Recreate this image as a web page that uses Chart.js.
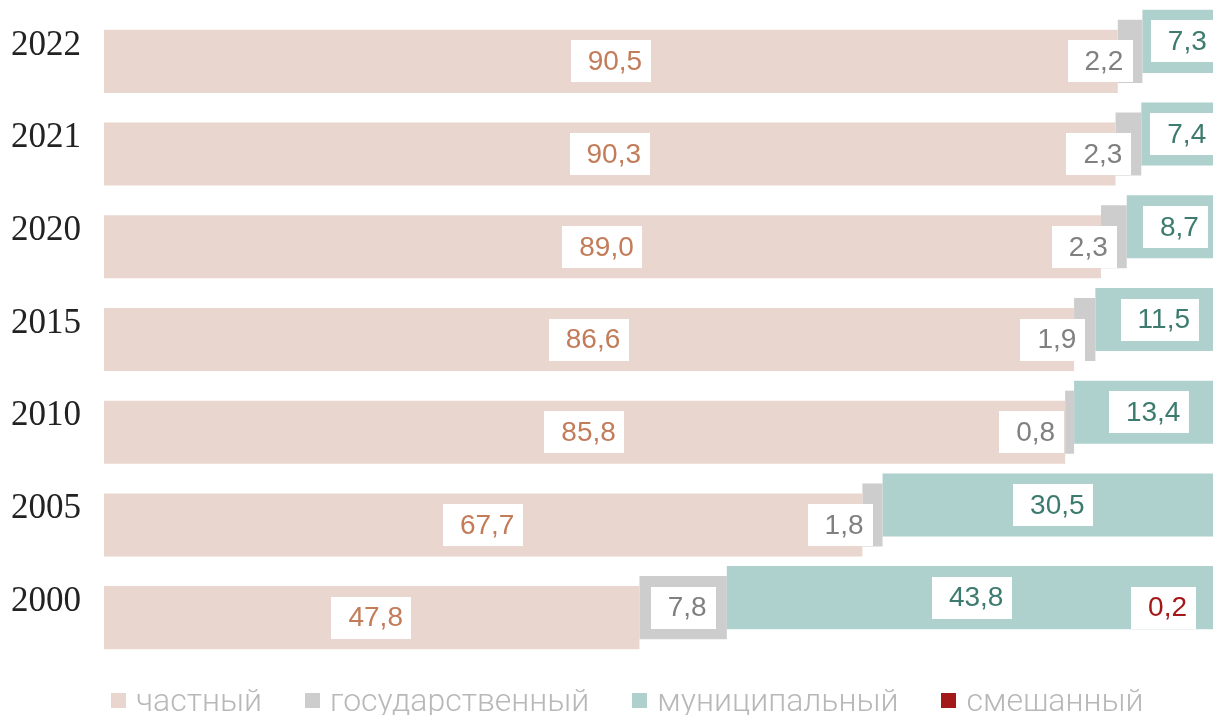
<!DOCTYPE html>
<html>
<head>
<meta charset="utf-8">
<script src="https://cdn.jsdelivr.net/npm/chart.js@4.4.1/dist/chart.umd.min.js"></script>
<style>
  body { margin: 0; background: #fff; }
  .wrap { position: relative; width: 1213px; height: 715px; overflow: hidden; }
  .legend {
    position: absolute; left: 111px; top: 684px;
    display: flex; white-space: nowrap;
    font: 300 32px Roboto, sans-serif; line-height: 32px; color: #b8b8b8;
  }
  .legend .item { display: flex; align-items: center; margin-right: 43px; }
  .legend .sw { width: 15px; height: 15px; margin-right: 10px; }
</style>
</head>
<body>
<div class="wrap">
  <canvas id="chart"></canvas>
  <div class="legend" id="legend"></div>
</div>
<script>
const years = ['2022', '2021', '2020', '2015', '2010', '2005', '2000'];
const privateShare = [90.5, 90.3, 89.0, 86.6, 85.8, 67.7, 47.8];
const stateShare = [2.2, 2.3, 2.3, 1.9, 0.8, 1.8, 7.8];
const municipalShare = [7.3, 7.4, 8.7, 11.5, 13.4, 30.5, 43.8];
const mixedShare = [null, null, null, null, null, null, 0.2];
const seriesNames = ['частный', 'государственный', 'муниципальный', 'смешанный'];

const barColors = ['#e9d6ce', '#cdcdcd', '#aed1cd', '#a31818'];
const labelColors = ['#c27c5a', '#808080', '#3e7b6f', '#a31818'];
// each series sits a little higher than the previous one
const shifts = [10, 0, -10, -20];

function fmt(v) {
  return v.toFixed(1).replace('.', ',');
}

const shiftPlugin = {
  id: 'stepShift',
  beforeDatasetDraw(chart, args) {
    chart.ctx.save();
    chart.ctx.translate(0, shifts[args.index]);
  },
  afterDatasetDraw(chart) {
    chart.ctx.restore();
  }
};

const labelPlugin = {
  id: 'boxLabels',
  afterDatasetsDraw(chart) {
    const ctx = chart.ctx;
    const area = chart.chartArea;
    ctx.save();
    ctx.font = '28px "Liberation Sans", Arial, sans-serif';
    ctx.textBaseline = 'middle';
    ctx.textAlign = 'left';
    chart.data.datasets.forEach((ds, i) => {
      const meta = chart.getDatasetMeta(i);
      meta.data.forEach((bar, j) => {
        const v = ds.data[j];
        if (v == null) return;
        const p = bar.getProps(['x', 'y', 'base'], true);
        const text = fmt(v);
        const w = ctx.measureText(text).width + 26;
        const h = 42;
        const left = Math.min(p.x, p.base);
        const right = Math.max(p.x, p.base);
        let cx = (left + right) / 2;
        let cy = p.y + shifts[i];
        if (i === 1 && right - left < w) {
          cx = right - w / 2 - 10;
          cy = p.y + shifts[0];
        }
        if (i === 3) {
          cx = Math.min(cx, area.right - w / 2 - 17);
          cy = p.y + shifts[1];
        }
        ctx.fillStyle = '#fff';
        ctx.fillRect(Math.round(cx - w / 2), Math.round(cy - h / 2), Math.round(w), h);
        ctx.fillStyle = labelColors[i];
        ctx.fillText(text, cx - w / 2 + 17, cy + 1);
      });
    });
    ctx.restore();
  }
};

const seriesData = [privateShare, stateShare, municipalShare, mixedShare];

new Chart(document.getElementById('chart'), {
  type: 'bar',
  data: {
    labels: years,
    datasets: seriesData.map((d, i) => ({
      label: seriesNames[i],
      data: d,
      backgroundColor: barColors[i],
      borderWidth: 0,
      categoryPercentage: 1,
      barPercentage: 0.68
    }))
  },
  options: {
    indexAxis: 'y',
    responsive: true,
    maintainAspectRatio: false,
    animation: false,
    layout: { padding: { top: 5, bottom: 61, left: 0, right: 0 } },
    scales: {
      x: {
        stacked: true,
        display: false,
        min: 0,
        max: 99
      },
      y: {
        stacked: true,
        grid: { display: false },
        border: { display: false },
        afterFit(scale) {
          scale.width = 104;
          scale.paddingTop = 0;
          scale.paddingBottom = 0;
        },
        ticks: {
          color: '#222',
          padding: 15,
          labelOffset: -6,
          font: { family: '"Liberation Serif", "DejaVu Serif", serif', size: 35 }
        }
      }
    },
    plugins: {
      legend: { display: false },
      tooltip: { enabled: false }
    }
  },
  plugins: [shiftPlugin, labelPlugin]
});

const legend = document.getElementById('legend');
seriesNames.forEach((name, i) => {
  const item = document.createElement('div');
  item.className = 'item';
  item.innerHTML = `<span class="sw" style="background:${barColors[i]}"></span><span>${name}</span>`;
  legend.appendChild(item);
});
</script>
</body>
</html>
